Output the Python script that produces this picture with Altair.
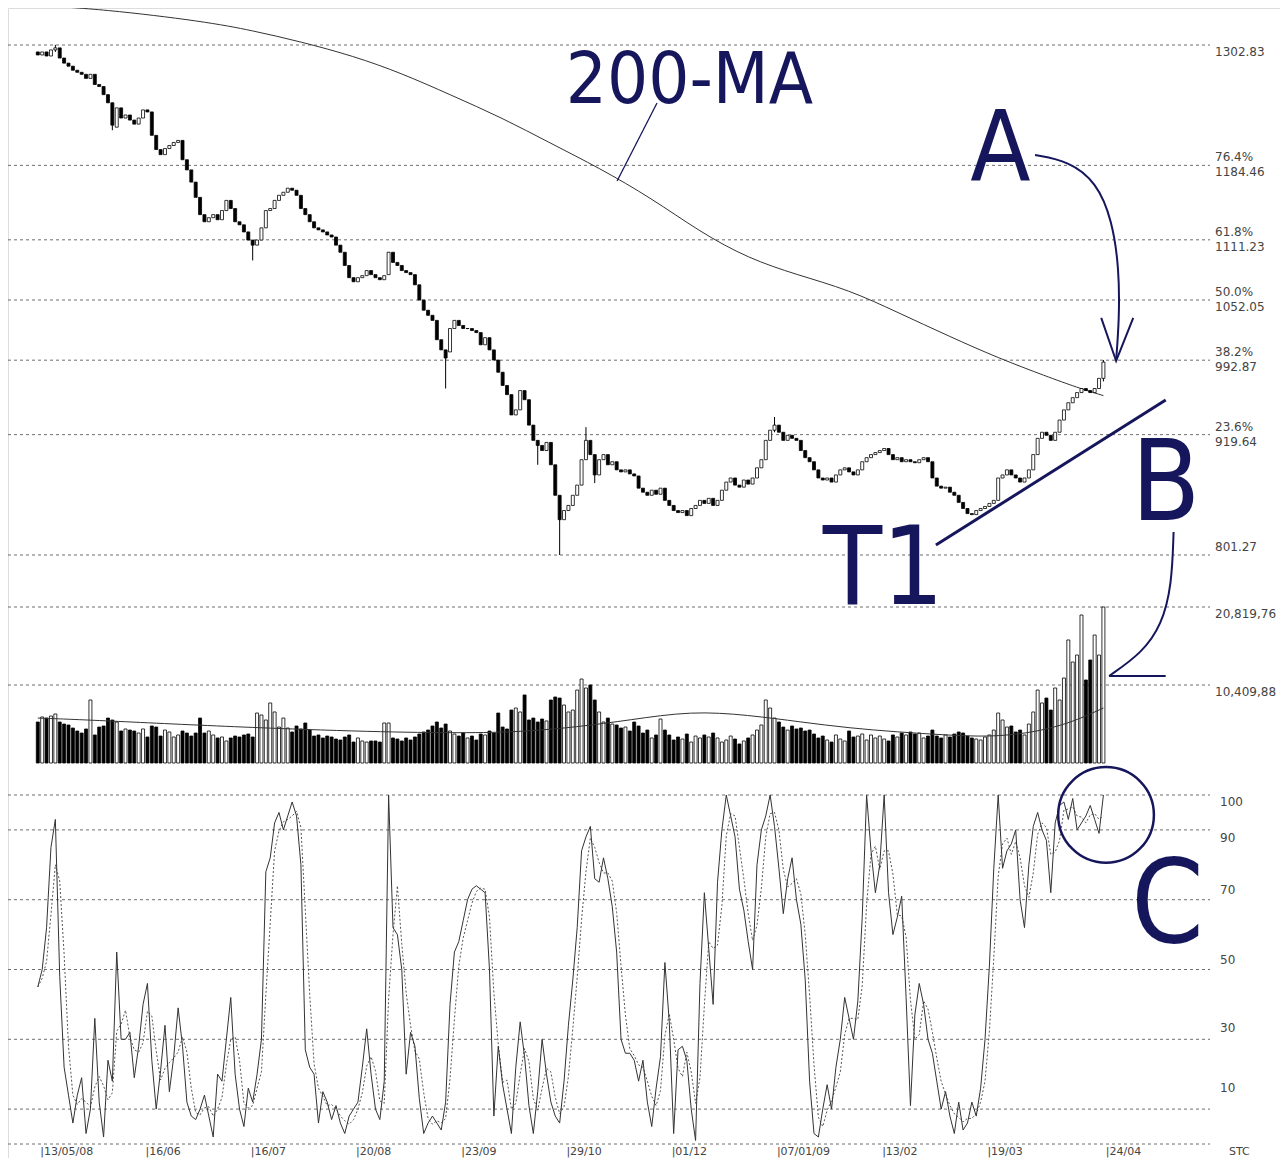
import altair as alt
import pandas as pd

# ---------------- data ----------------
CLOSE = [1293,1296,1292,1298,1300,1290,1285,1282,1278,1276,
         1274,1270,1274,1264,1262,1254,1246,1224,1241,1231,
         1234,1229,1225,1231,1239,1237,1214,1200,1195,1201,
         1204,1207,1209,1190,1180,1168,1153,1136,1129,1133,
         1136,1131,1140,1150,1142,1129,1126,1119,1111,1106,
         1111,1123,1140,1142,1150,1155,1158,1162,1160,1155,
         1142,1136,1129,1123,1121,1119,1116,1114,1106,1099,
         1086,1074,1070,1074,1076,1081,1077,1074,1072,1076,
         1099,1089,1086,1081,1079,1077,1067,1052,1042,1037,
         1032,1013,1003,995,1024,1032,1027,1024,1024,1022,
         1020,1008,1015,1003,993,981,968,959,939,944,
         963,954,929,914,909,904,912,890,860,836,
         845,850,860,870,895,914,900,880,895,900,
         890,893,885,883,885,881,879,867,863,860,
         865,861,867,855,850,845,843,845,840,847,
         850,855,852,857,850,855,865,873,877,870,
         868,875,871,877,887,895,914,924,929,922,
         914,919,916,914,904,897,893,885,877,875,
         877,873,880,885,887,883,880,885,893,897,
         900,902,904,906,900,895,897,893,895,893,
         892,895,897,893,877,869,867,868,863,860,
         853,847,842,841,845,847,849,852,855,877,
         880,885,880,877,873,877,885,900,916,922,
         919,914,922,934,944,951,956,961,965,963,
         961,965,975,991]

OPEN = [1296,1293,1296,1292,1298,1300,1290,1285,1282,1278,
        1276,1274,1270,1274,1264,1262,1254,1246,1222,1241,
        1231,1234,1229,1225,1231,1239,1237,1214,1200,1195,
        1201,1204,1207,1209,1190,1180,1168,1153,1136,1129,
        1133,1136,1131,1140,1150,1142,1129,1126,1119,1111,
        1106,1111,1123,1140,1142,1150,1155,1158,1162,1160,
        1155,1142,1136,1129,1123,1121,1119,1116,1114,1106,
        1099,1086,1074,1070,1074,1076,1081,1077,1074,1072,
        1077,1099,1089,1086,1081,1079,1077,1067,1052,1042,
        1037,1032,1013,1003,1001,1024,1032,1027,1024,1024,
        1022,1020,1008,1015,1003,993,981,968,959,939,
        944,963,954,929,914,909,904,912,890,860,
        836,845,850,860,870,895,914,900,880,895,
        900,890,893,885,883,885,881,879,867,863,
        860,865,861,867,855,850,845,843,845,840,
        847,850,855,852,857,850,855,865,873,877,
        870,868,875,871,877,887,895,914,924,929,
        922,914,919,916,914,904,897,893,885,877,
        875,877,873,880,885,887,883,880,885,893,
        897,900,902,904,906,900,895,897,893,895,
        893,892,895,897,893,877,869,867,868,863,
        860,853,847,842,841,845,847,849,852,855,
        877,880,885,880,877,873,877,885,900,916,
        922,919,914,922,934,944,951,956,961,965,
        963,961,965,975]

WICK_IDX = [4, 17, 49, 93, 114, 119, 125, 127, 168, 243]
WICK_HIGH = [1303, 1246, 1111, 1003, 914, 845, 927, 900, 937, 993]
WICK_LOW = [1296, 1219, 1091, 965, 890, 801.27, 895, 872, 922, 972]

VOLUME = [5470,6140,6000,6270,6540,5470,5200,5070,4670,4270,
          4000,4540,8410,3740,4800,4940,6000,5740,5470,4270,
          4540,4400,4270,4000,4540,3470,4940,4800,3600,4400,
          4140,3470,3740,4270,4000,3600,4000,6000,4000,4270,
          3740,3340,3470,2940,3340,3600,3470,3740,3870,3470,
          6670,6410,5740,8010,6810,4800,6000,4670,4140,4940,
          4540,5340,4400,3600,3740,3340,3600,3470,3200,3070,
          3470,3740,2800,3340,2940,2800,2940,2940,2800,5340,
          5340,3340,3200,2940,3340,3070,3470,3870,4140,4400,
          4940,5470,4670,5200,4270,3870,3600,4000,3340,3600,
          3070,3870,3740,4270,4000,6670,4800,4540,7070,7340,
          6810,9080,5740,6000,5470,5870,5610,8410,8810,8670,
          7740,6810,7070,9740,11210,10010,10410,8410,6810,5470,
          6000,5200,5070,4670,4800,4270,5470,4940,4000,4400,
          3340,3740,5870,4400,3740,3070,3470,3200,3870,2800,
          3600,3340,3740,3470,4000,3340,2800,3070,3600,3200,
          2540,2940,3340,3740,4400,5070,8410,7340,6000,5470,
          4800,4400,4940,4540,4670,4270,4400,3870,3340,3600,
          3070,2800,3740,3200,2940,4270,3470,3600,3870,3070,
          3740,3340,3600,3200,2940,3740,3470,4000,3740,4140,
          3870,4000,3340,3600,4400,3600,3340,3740,3470,3870,
          4140,4000,3600,3340,3200,3070,3470,3740,4400,6670,
          5740,4800,4940,4140,4400,3740,5200,6810,9740,8010,
          8670,7070,10010,8410,11340,16420,13480,14410,19750,11080,
          13750,17080,14410,20820]

STOCH_K = [45,50,62,85,93,48,22,14,6,14,
           19,3,10,36,12,2,24,18,55,30,
           30,32,19,28,40,46,24,10,21,34,
           15,25,39,28,12,8,7,10,14,8,
           2,20,18,30,42,20,10,5,16,12,
           20,30,78,82,92,95,90,94,98,94,
           80,27,22,20,6,15,12,7,11,6,
           3,8,10,12,22,33,20,10,7,18,
           100,62,60,50,20,32,28,13,3,6,
           8,6,4,12,40,55,58,64,70,73,
           74,73,72,50,8,28,17,10,3,22,
           35,25,11,3,15,30,20,12,8,6,
           18,34,47,62,84,88,91,76,75,82,
           76,68,55,30,26,26,24,18,24,12,
           5,16,25,52,35,3,27,28,24,10,
           1,46,72,56,40,75,90,100,94,88,
           73,67,58,50,80,90,94,100,91,79,
           66,76,82,70,63,47,18,3,2,10,
           17,10,22,30,42,36,30,41,65,100,
           84,72,80,100,72,60,65,71,42,11,
           37,46,40,30,26,18,10,15,8,3,
           12,4,6,12,8,16,30,51,79,100,
           79,84,86,90,70,62,80,91,95,90,
           87,72,92,97,98,93,99,90,92,94,
           97,93,89,100]

MA200_IDX = [-1, 15, 38, 49, 60, 72, 83, 94, 106, 117, 128, 140, 151, 162, 173, 185, 196, 208, 219, 230, 237, 243]
MA200_VAL = [1342, 1338, 1326, 1317, 1306, 1292, 1275, 1254, 1231, 1206, 1182, 1152, 1119, 1093, 1077, 1062, 1040, 1016, 995, 977, 966, 958]

VMA_IDX = [0, 12, 45, 77, 97, 110, 123, 135, 149, 162, 174, 185, 196, 207, 217, 226, 232, 237, 243]
VMA_VAL = [6000, 5740, 4800, 4140, 4000, 4140, 4800, 5740, 6940, 6410, 5470, 4670, 4140, 3740, 3470, 4000, 4800, 5740, 7340]

PRICE_LEVELS = [1302.83, 1184.46, 1111.23, 1052.05, 992.87, 919.64, 801.27]
PRICE_PCT = ["", "76.4%", "61.8%", "50.0%", "38.2%", "23.6%", ""]
PRICE_TXT = ["1302.83", "1184.46", "1111.23", "1052.05", "992.87", "919.64", "801.27"]

VOL_LEVELS = [20819.76, 10409.88]
VOL_TXT = ["20,819,76", "10,409,88"]

STOCH_LEVELS = [100, 90, 70, 50, 30, 10, 0]
STOCH_TXT = ["100", "90", "70", "50", "30", "10", "STC"]

DATE_IDX = [1, 25, 49, 73, 97, 121, 145, 169, 193, 217, 244]
DATE_TXT = ["|13/05/08", "|16/06", "|16/07", "|20/08", "|23/09", "|29/10",
            "|01/12", "|07/01/09", "|13/02", "|19/03", "|24/04"]

# annotation geometry (bar index, price / stochastic value)
ANN_TEXT = ["200-MA", "A", "T1", "B"]
ANN_TEXT_I = [148.6, 219.5, 192.8, 257.2]
ANN_TEXT_P = [1245.8, 1170.1, 753.1, 835.7]
ANN_TEXT_SIZE = [72, 98, 108, 112]

MA_PTR_I = [141.2, 132.1]
MA_PTR_P = [1245.8, 1169.1]
T1_I = [204.8, 257.2]
T1_P = [811.1, 953.7]
ARROW_A_I = [227.4, 235.1, 241.4, 245.0, 246.6, 246.6, 245.9]
ARROW_A_P = [1194.6, 1188.7, 1168.1, 1130.7, 1081.6, 1032.4, 993.1]
HEAD_A_I = [242.5, 245.9, 249.8]
HEAD_A_P = [1034.4, 992.1, 1034.4]
ARROW_B_I = [259.0, 258.6, 256.3, 251.8, 244.3]
ARROW_B_P = [823.9, 771.8, 732.5, 704.9, 682.3]
HEAD_B_I = [244.3, 257.2]
HEAD_B_P = [682.3, 682.3]
C_CIRCLE_I, C_CIRCLE_V = 243.6, 94.3
C_TEXT_I, C_TEXT_V = 257.6, 57.8

# ---------------- scales / styles ----------------
NAVY = "#16165c"
GRID = "#6e6e6e"
LABEL_FONT = "DejaVu Sans"
BIG_FONT = "Liberation Sans Narrow, DejaVu Sans Condensed, Liberation Sans, sans-serif"

W, H = 1272, 1150
XS = alt.Scale(domain=[-5.656, (W - 25) / 4.42], nice=False, zero=False)
PS = alt.Scale(domain=[801.27, 1302.83], range=[547, 37], nice=False, zero=False)
VS = alt.Scale(domain=[0, 20819.76], range=[755, 599], nice=False, zero=False)
SS = alt.Scale(domain=[0, 100], range=[1136, 787], nice=False, zero=False)


def X(field="i"):
    return alt.X(field, type="quantitative", scale=XS, axis=None)


def Y(field, scale):
    return alt.Y(field, type="quantitative", scale=scale, axis=None)


N = len(CLOSE)
bars = pd.DataFrame({"i": list(range(N)), "open": OPEN, "close": CLOSE,
                     "volume": VOLUME, "k": STOCH_K})
bars["dir"] = ["up" if c >= o else "down" for o, c in zip(OPEN, CLOSE)]
dir_color = alt.Color("dir:N", scale=alt.Scale(domain=["up", "down"], range=["white", "black"]), legend=None)

layers = []

# grid lines
for levels, scale in [(PRICE_LEVELS, PS), (VOL_LEVELS, VS), (STOCH_LEVELS, SS)]:
    layers.append(
        alt.Chart(pd.DataFrame({"v": levels})).mark_rule(strokeDash=[3, 3], color=GRID, strokeWidth=1)
        .encode(x=alt.value(0), x2=alt.value(1202), y=Y("v", scale))
    )

# 200-day moving average
layers.append(
    alt.Chart(pd.DataFrame({"i": MA200_IDX, "v": MA200_VAL})).mark_line(color="#333333", strokeWidth=1, interpolate="basis")
    .encode(x=X(), y=Y("v", PS))
)

# candle wicks
layers.append(
    alt.Chart(pd.DataFrame({"i": WICK_IDX, "hi": WICK_HIGH, "lo": WICK_LOW})).mark_rule(color="black", strokeWidth=1)
    .encode(x=X(), y=Y("hi", PS), y2=alt.Y2("lo"))
)

base = alt.Chart(bars)
# candle bodies
layers.append(
    base.mark_bar(size=3, stroke="black", strokeWidth=0.8)
    .encode(x=X(), y=Y("open", PS), y2=alt.Y2("close"), color=dir_color)
)
# volume bars
layers.append(
    base.mark_bar(size=3, stroke="black", strokeWidth=0.8)
    .encode(x=X(), y=Y("volume", VS), y2=alt.Y2(datum=0), color=dir_color)
)
# volume moving average
layers.append(
    alt.Chart(pd.DataFrame({"i": VMA_IDX, "v": VMA_VAL})).mark_line(color="#333333", strokeWidth=1, interpolate="basis")
    .encode(x=X(), y=Y("v", VS))
)
# stochastic %D (3-bar mean of %K) and %K
layers.append(
    base.transform_window(d="mean(k)", frame=[-2, 0], sort=[alt.SortField("i")])
    .mark_line(color="#555555", strokeWidth=1, strokeDash=[2, 2])
    .encode(x=X(), y=Y("d", SS))
)
layers.append(
    base.mark_line(color="#333333", strokeWidth=1).encode(x=X(), y=Y("k", SS))
)


# right-hand labels
def label_layer(texts, values, scale, dy, dx=0):
    return (alt.Chart(pd.DataFrame({"t": texts, "v": values}))
            .mark_text(align="left", baseline="middle", dy=dy, dx=dx, font=LABEL_FONT, fontSize=12, color="#444444")
            .encode(x=alt.value(1207), y=Y("v", scale), text="t:N"))


for t, p, pct in zip(PRICE_TXT, PRICE_LEVELS, PRICE_PCT):
    if pct:
        layers.append(label_layer([pct], [p], PS, -8))
        layers.append(label_layer([t], [p], PS, 7))
    elif t == "801.27":
        layers.append(label_layer([t], [p], PS, -8))
    else:
        layers.append(label_layer([t], [p], PS, 7))

for t, v in zip(VOL_TXT, VOL_LEVELS):
    layers.append(label_layer([t], [v], VS, 7))

STOCH_DY = {"100": 7, "90": 8, "70": -10, "50": -10, "30": -11, "10": -21}
for t, v in zip(STOCH_TXT[:-1], STOCH_LEVELS[:-1]):
    layers.append(label_layer([t], [v], SS, STOCH_DY[t], 5))

# bottom labels (dates and the panel name) sit just under the zero line
layers.append(
    alt.Chart(pd.DataFrame({"t": [STOCH_TXT[-1]]}))
    .mark_text(align="left", baseline="alphabetic", font=LABEL_FONT, fontSize=11, color="#444444")
    .encode(x=alt.value(1221), y=alt.value(1146.5), text="t:N")
)
layers.append(
    alt.Chart(pd.DataFrame({"i": DATE_IDX, "t": DATE_TXT}))
    .mark_text(align="left", baseline="alphabetic", font=LABEL_FONT, fontSize=11, color="#444444", dx=-2)
    .encode(x=X(), y=alt.value(1146.5), text="t:N")
)


# ---------------- annotations ----------------
def path(i_vals, v_vals, scale, width, interp="linear"):
    return (alt.Chart(pd.DataFrame({"i": i_vals, "v": v_vals, "o": list(range(len(i_vals)))}))
            .mark_line(color=NAVY, strokeWidth=width, interpolate=interp)
            .encode(x=X(), y=Y("v", scale), order="o:Q"))


layers.append(path(MA_PTR_I, MA_PTR_P, PS, 1.3))
layers.append(path(T1_I, T1_P, PS, 3))
layers.append(path(ARROW_A_I, ARROW_A_P, PS, 2, "basis"))
layers.append(path(HEAD_A_I, HEAD_A_P, PS, 2))
layers.append(path(ARROW_B_I, ARROW_B_P, PS, 2, "basis"))
layers.append(path(HEAD_B_I, HEAD_B_P, PS, 2))

for t, i, p, s in zip(ANN_TEXT, ANN_TEXT_I, ANN_TEXT_P, ANN_TEXT_SIZE):
    layers.append(
        alt.Chart(pd.DataFrame({"t": [t], "i": [i], "v": [p]}))
        .mark_text(align="center", baseline="alphabetic", font=BIG_FONT, fontSize=s, color=NAVY)
        .encode(x=X(), y=Y("v", PS), text="t:N")
    )

layers.append(
    alt.Chart(pd.DataFrame({"i": [C_CIRCLE_I], "v": [C_CIRCLE_V]}))
    .mark_point(shape="circle", size=9160, filled=False, strokeWidth=2.5, color=NAVY, opacity=1)
    .encode(x=X(), y=Y("v", SS))
)
layers.append(
    alt.Chart(pd.DataFrame({"t": ["C"], "i": [C_TEXT_I], "v": [C_TEXT_V]}))
    .mark_text(align="center", baseline="alphabetic", font=BIG_FONT, fontSize=116, color=NAVY)
    .encode(x=X(), y=Y("v", SS), text="t:N")
)

chart = (alt.layer(*layers)
         .resolve_scale(y="independent")
         .properties(width=W, height=H, padding=0,
                     autosize=alt.AutoSizeParams(type="none"))
         .configure_view(stroke=None)
         .configure(background="white"))

chart.save("out.html", embed_options={"renderer": "svg", "actions": False})
